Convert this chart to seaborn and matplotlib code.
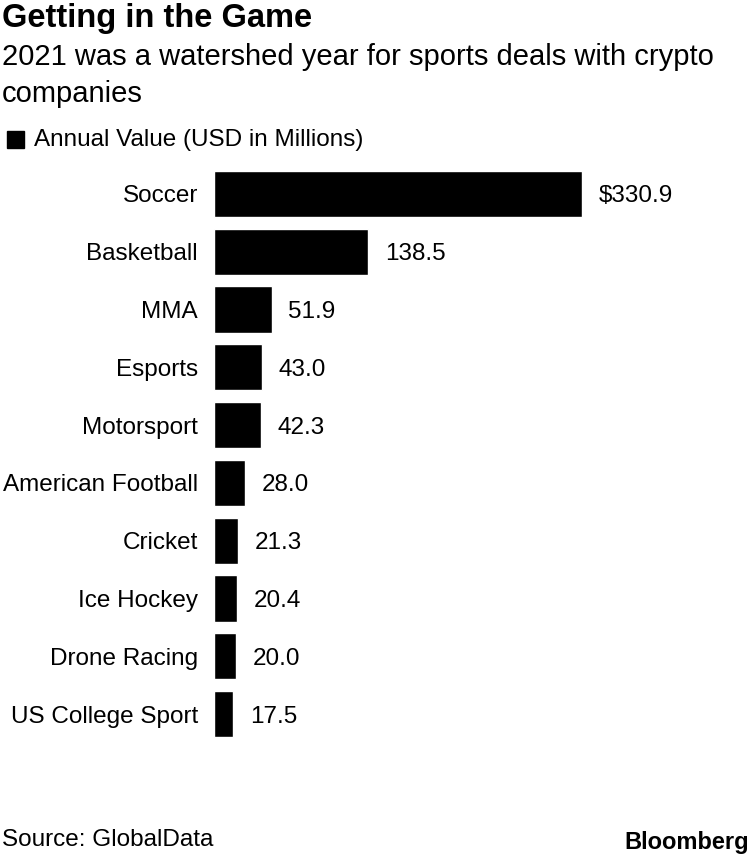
import matplotlib
matplotlib.use('Agg')
import matplotlib.pyplot as plt
import seaborn as sns
import pandas as pd
from matplotlib.patches import Rectangle

sports = ['Soccer', 'Basketball', 'MMA', 'Esports', 'Motorsport',
          'American Football', 'Cricket', 'Ice Hockey', 'Drone Racing',
          'US College Sport']
values = [330.9, 138.5, 51.9, 43.0, 42.3, 28.0, 21.3, 20.4, 20.0, 17.5]
value_labels = ['$330.9', '138.5', '51.9', '43.0', '42.3', '28.0', '21.3',
                '20.4', '20.0', '17.5']

sns.set_style('white')
plt.rcParams['font.family'] = ['Liberation Sans', 'DejaVu Sans']
plt.rcParams['text.color'] = 'black'
plt.rcParams['ytick.color'] = 'black'
plt.rcParams['ytick.labelcolor'] = 'black'

df = pd.DataFrame({'sport': sports, 'value': values})

fig = plt.figure(figsize=(7.5, 8.58), dpi=100)
ax = fig.add_axes([0.2853, 0.134, 0.7147, 0.6737])

sns.barplot(data=df, x='value', y='sport', orient='h', color='black',
            saturation=1, width=0.8, ax=ax)

ax.set_xlim(0, 482)
ax.set_ylim(9.5, -0.5)
ax.set_xlabel('')
ax.set_ylabel('')
ax.set_xticks([])
ax.tick_params(axis='y', length=0, pad=11.5, labelsize=17.5)
for s in ax.spines.values():
    s.set_visible(False)

for i, (v, lab) in enumerate(zip(values, value_labels)):
    ax.text(v + 15, i, lab, va='center_baseline', ha='left', fontsize=17.5)

fig.text(0.002, 0.978, 'Getting in the Game', fontsize=23.5, fontweight='bold',
         va='center', ha='left')
fig.text(0.002, 0.934, '2021 was a watershed year for sports deals with crypto',
         fontsize=21, va='center', ha='left')
fig.text(0.002, 0.891, 'companies', fontsize=21, va='center', ha='left')

fig.patches.append(Rectangle((7 / 750, 1 - 148 / 858), 17 / 750, 17 / 858,
                             transform=fig.transFigure, color='black'))
fig.text(34 / 750, 1 - 140 / 858, 'Annual Value (USD in Millions)',
         fontsize=17.5, va='center', ha='left')

fig.text(0.002, 1 - 840 / 858, 'Source: GlobalData', fontsize=17.5,
         va='center', ha='left')
fig.text(0.999, 1 - 843 / 858, 'Bloomberg', fontsize=17, fontweight='bold',
         va='center', ha='right')

fig.savefig('out.png', dpi=100)
